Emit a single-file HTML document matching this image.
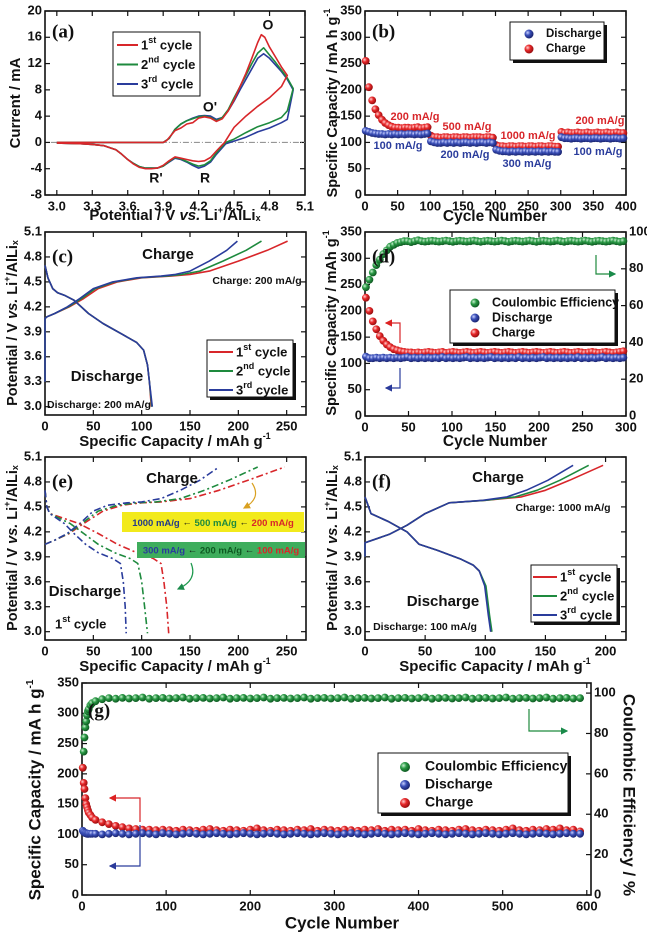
<!DOCTYPE html>
<html><head><meta charset="utf-8">
<style>
html,body{margin:0;padding:0;background:#fff;}
svg{display:block;font-family:"Liberation Sans",Arial,sans-serif;font-weight:bold;}
</style></head>
<body>
<svg id="fig" width="647" height="938" viewBox="0 0 647 938" xmlns="http://www.w3.org/2000/svg">
<defs>
<radialGradient id="gR" cx="35%" cy="35%" r="65%"><stop offset="0" stop-color="#ffd0d0"/><stop offset="0.45" stop-color="#e8292b"/><stop offset="1" stop-color="#9a0e10"/></radialGradient>
<radialGradient id="gB" cx="35%" cy="35%" r="65%"><stop offset="0" stop-color="#c8d0ff"/><stop offset="0.45" stop-color="#3a4fb8"/><stop offset="1" stop-color="#1a2470"/></radialGradient>
<radialGradient id="gG" cx="35%" cy="35%" r="65%"><stop offset="0" stop-color="#c8f0d0"/><stop offset="0.45" stop-color="#2a9a45"/><stop offset="1" stop-color="#0e5a22"/></radialGradient>
<marker id="ahR" markerWidth="6" markerHeight="6" refX="5" refY="3" orient="auto"><path d="M0,0 L6,3 L0,6 Z" fill="#d22"/></marker>
<marker id="ahB" markerWidth="6" markerHeight="6" refX="5" refY="3" orient="auto"><path d="M0,0 L6,3 L0,6 Z" fill="#2a3a9a"/></marker>
<marker id="ahG" markerWidth="6" markerHeight="6" refX="5" refY="3" orient="auto"><path d="M0,0 L6,3 L0,6 Z" fill="#1a8a4a"/></marker>
<marker id="ahO" markerWidth="6" markerHeight="6" refX="5" refY="3" orient="auto"><path d="M0,0 L6,3 L0,6 Z" fill="#d9a020"/></marker>
</defs>
</svg>
<script>
// ---------- Panel (a) CV data ----------
const aV1 = [3.0,3.3,3.6,3.9,3.93,4.0,4.05,4.1,4.15,4.2,4.25,4.3,4.35,4.4,4.45,4.5,4.55,4.6,4.65,4.7,4.73,4.76,4.8,4.85,4.9,4.95,4.9,4.8,4.7,4.6,4.5,4.42,4.35,4.3,4.25,4.2,4.15,4.1,4.05,4.0,3.95,3.9,3.85,3.8,3.75,3.7,3.65,3.6,3.55,3.5,3.4,3.3,3.2,3.0];
const aI1 = [0,0,0,0,0.3,1.8,2.2,2.8,3.0,3.7,3.9,3.7,3.2,3.6,4.8,6.5,8.5,10.5,12.8,15.2,16.4,16.0,14.5,13.0,11.5,10.2,8.5,6.8,5.5,4.0,2.3,0,-1.3,-2.3,-2.8,-2.9,-2.8,-2.6,-2.4,-2.2,-2.8,-3.5,-3.9,-4.0,-4.0,-3.8,-3.3,-2.6,-1.8,-1.1,-0.5,-0.3,-0.2,-0.1];
const aV23 = [3.0,3.3,3.6,3.9,3.95,4.0,4.05,4.1,4.15,4.2,4.25,4.3,4.35,4.4,4.45,4.5,4.55,4.6,4.65,4.7,4.75,4.8,4.85,4.9,4.95,5.0,4.95,4.9,4.8,4.7,4.6,4.5,4.43,4.35,4.3,4.25,4.2,4.15,4.1,4.05,4.0,3.95,3.9,3.85,3.8,3.75,3.7,3.65,3.6,3.55,3.5,3.4,3.3,3.2,3.0];
const aI2 = [0,0,0,0,0.6,2.0,2.8,3.3,3.6,3.9,4.0,3.8,3.3,3.8,5.0,6.8,8.5,10.2,12.0,13.6,14.4,13.3,12.2,11.0,9.8,8.2,4.8,3.8,3.0,2.4,1.5,0.5,0,-1.6,-2.8,-3.4,-3.6,-3.3,-2.9,-2.5,-2.3,-2.9,-3.6,-3.9,-3.9,-3.9,-3.7,-3.2,-2.6,-1.8,-1.1,-0.5,-0.3,-0.2,-0.1];
const aI3 = [0,0,0,0,0.6,2.0,2.8,3.3,3.7,4.0,4.1,4.0,3.5,3.8,4.8,6.3,8.0,9.6,11.2,12.8,13.5,12.8,11.8,10.8,9.6,8.0,3.5,3.0,2.2,1.6,0.8,0.2,-0.2,-1.8,-3.0,-3.6,-3.9,-3.5,-3.0,-2.6,-2.4,-3.0,-3.6,-3.9,-3.9,-3.9,-3.7,-3.2,-2.6,-1.8,-1.1,-0.5,-0.3,-0.2,-0.1];
const aXTicks = [3.0,3.3,3.6,3.9,4.2,4.5,4.8,5.1];
const aYTicks = [-8,-4,0,4,8,12,16,20];

// ---------- Panel (b) rate data (cycles 1,6,11,...) ----------
const bCharge = [255,205,180,163,152,143,137,133,130,128,128,127,128,128,127,128,129,127,128,129,
 113,110,110,109,110,110,109,110,110,109,110,110,109,110,110,110,109,110,110,109,
 95,93,93,92,93,93,92,93,93,92,93,93,92,93,93,92,93,93,92,92,
 120,118,119,118,118,119,118,118,119,118,118,119,118,118,119,118,118,119,118,118];
const bDischarge = [122,120,118,117,116,116,115,116,115,116,115,116,115,116,116,115,116,115,116,117,
 102,100,99,99,100,99,100,99,100,99,100,100,99,100,99,100,100,99,100,99,
 86,84,83,83,82,83,82,83,82,83,82,83,82,83,82,83,82,83,82,82,
 110,108,108,107,108,108,107,108,108,107,108,108,107,108,108,107,108,108,107,108];
const bXTicks = [0,50,100,150,200,250,300,350,400];
const capTicks = [0,50,100,150,200,250,300,350];

// ---------- Panel (c) ----------
const cChgV = [3.3,4.06,4.08,4.12,4.2,4.3,4.42,4.5,4.55,4.57,4.59,4.63,4.75,4.88,4.99];
const cChg1 = [0,0,2,10,25,40,55,75,100,130,150,170,200,230,251];
const cChg2 = [0,0,2,10,24,38,52,72,97,125,142,160,184,208,224];
const cChg3 = [0,0,2,10,23,36,50,70,95,120,135,150,170,188,199];
const cDisV = [4.7,4.55,4.42,4.37,4.34,4.28,4.12,4.0,3.87,3.77,3.68,3.5,3.3,3.0];
const cDis1 = [0,3,8,13,20,30,45,60,80,95,102,106,108,110];
const cDis2 = [0,3,8,13,20,30,45,60,80,95,102,106,108,110.5];
const cDis3 = [0,3,8,13,20,30,45,60,80,95,102,106,108,111];
const vTicks = [3.0,3.3,3.6,3.9,4.2,4.5,4.8,5.1];
const capXTicks = [0,50,100,150,200,250];

// ---------- Panel (d) cycles 1,5,9,... ----------
const dCharge = [225,200,180,165,152,143,136,131,127,125,123,122,121,121,120,121,120,121,122,121,
 120,121,122,120,121,122,121,120,121,122,121,120,121,122,121,120,121,122,121,120,
 121,122,121,120,121,122,121,120,121,122,121,120,121,122,121,120,121,122,121,120,
 121,122,121,120,121,122,121,120,121,122,121,120,121,122,123];
const dDischarge = [113,110,110,111,110,111,110,111,110,111,110,111,112,110,111,110,111,110,111,110,
 111,110,112,110,111,110,111,110,111,112,110,111,110,111,110,111,112,110,111,110,
 111,110,111,110,112,110,111,110,111,110,111,112,110,111,110,111,110,111,110,111,
 110,112,110,111,110,111,110,111,112,110,111,110,111,110,111];
const dCE = [70,74,78,82,85,88,90,92,93,94,94.5,95,95,94.5,95,95.5,95,94.8,95,95.2,
 95,94.8,95,95.3,95,94.7,95,95.2,95,94.8,95,95.3,95,94.7,95,95.2,95,94.8,95,95.3,
 95,94.6,95,95.2,95,94.8,95,95.3,95,94.7,95,95.2,95,94.8,95,95.3,95,94.7,95,95.2,
 95,94.8,95,95.3,95,94.7,95,95.2,95,94.8,95,95.3,95,94.7,95];
const dXTicks = [0,50,100,150,200,250,300];
const ceTicks = [0,20,40,60,80,100];

// ---------- Panel (e) ----------
const eChgV = [4.05,4.1,4.18,4.3,4.45,4.52,4.55,4.56,4.6,4.7,4.82,4.98];
const eChgR = [0,10,25,40,60,80,100,120,150,180,210,248];
const eChgG = [0,10,24,38,55,75,95,115,140,165,190,220];
const eChgB = [0,10,23,36,50,65,85,100,120,140,160,180];
const eDisV = [4.7,4.5,4.42,4.38,4.3,4.18,4.05,3.95,3.88,3.82,3.6,3.3,2.98];
const eDisR = [0,2,5,15,35,55,75,95,112,120,123,126,128];
const eDisG = [0,2,5,12,26,40,55,72,88,96,100,103,106];
const eDisB = [0,2,5,10,20,30,42,55,70,78,81,83,84];

// ---------- Panel (f) ----------
const fChgV = [3.9,4.07,4.17,4.28,4.42,4.55,4.58,4.62,4.7,4.82,5.0];
const fChg1 = [0,0,20,35,50,70,100,130,150,170,198];
const fChg2 = [0,0,20,35,50,70,100,125,143,162,186];
const fChg3 = [0,0,20,35,50,70,98,118,134,152,173];
const fDisV = [4.62,4.42,4.32,4.2,4.05,3.98,3.87,3.8,3.73,3.55,3.2,3.0];
const fDis1 = [0,5,20,35,45,60,80,90,95,100,103,105];
const fDis2 = [0,5,20,35,45,60,80,90,95,100.5,103.5,105.5];
const fDis3 = [0,5,20,35,45,60,80,90,95,99.5,102.5,104.5];
const fXTicks = [0,50,100,150,200];

// ---------- Panel (g) ----------
const gEarlyCycles = [1,2,3,4,5,6,7,8,10,12];
const gCharge = [210,185,175,160,150,145,140,136,132,128,
 124,120,117,114,112,110,109,108,108,107,108,107,106,108,107,106,108,109,107,106,108,107,106,108,110,107,106,108,107,106,108,107,109,106,108,107,106,108,107,106,108,107,109,106,108,107,108,106,109,107,106,108,107,106,108,109,107,106,108,107,106,108,110,107,106,108,107,109,108,110,107,108,105];
const gDischarge = [106,104,103,102,102,101,101,101,101,101,
 101,100,101,102,101,100,101,102,101,100,102,101,100,101,102,101,100,101,102,101,100,101,102,101,100,101,102,101,100,101,102,101,100,101,102,101,100,101,102,101,100,101,102,101,100,101,102,101,100,101,102,101,100,101,102,101,100,101,102,101,100,101,102,101,100,101,102,101,100,101,102,101,101];
const gCE = [63,71,78,83,86,89,91,92,94,95,
 96,97,97.5,97.2,97.6,97.3,97.5,97.8,97.2,97.5,97.6,97.3,97.5,97.8,97.2,97.5,97.6,97.3,97.5,97.8,97.2,97.5,97.6,97.3,97.5,97.8,97.2,97.5,97.6,97.3,97.5,97.8,97.2,97.5,97.6,97.3,97.5,97.8,97.2,97.5,97.6,97.3,97.5,97.8,97.2,97.5,97.6,97.3,97.5,97.8,97.2,97.5,97.6,97.3,97.5,97.8,97.2,97.5,97.6,97.3,97.5,97.8,97.2,97.5,97.6,97.3,97.5,97.8,97.2,97.5,97.6,97.3,97.5];
const gXTicks = [0,100,200,300,400,500,600];

const NS = 'http://www.w3.org/2000/svg';
const svg = document.getElementById('fig');
const RED = '#d8262a', GRN = '#1e8a3e', BLU = '#2a3c9c';

function mk(tag, attrs, name, parent) {
  const e = document.createElementNS(NS, tag);
  for (const k in attrs) e.setAttribute(k, attrs[k]);
  
  
  (parent || svg).appendChild(e);
  return e;
}
function txt(x, y, html, size, name, opts) {
  opts = opts || {};
  const t = mk('text', {x: x, y: y, 'font-size': size, 'text-anchor': opts.anchor || 'start', fill: opts.fill || '#111', 'dominant-baseline': 'middle'}, name, opts.parent);
  if (opts.rot) t.setAttribute('transform', 'rotate(' + opts.rot + ' ' + x + ' ' + y + ')');
  if (opts.family) t.setAttribute('font-family', opts.family);
  t.innerHTML = html;
  return t;
}
function axes(p) {
  const g = mk('g', {}, p.name);
  const sx = v => p.L + (v - p.xmin) / (p.xmax - p.xmin) * (p.R - p.L);
  const sy = v => p.B - (v - p.ymin) / (p.ymax - p.ymin) * (p.B - p.T);
  const fmt = p.fmt || (v => String(v));
  p.xt.forEach(v => {
    const x = sx(v);
    mk('line', {x1: x, x2: x, y1: p.B, y2: p.B - 5, stroke: '#111', 'stroke-width': 1.2}, 'x-tick', g);
    mk('line', {x1: x, x2: x, y1: p.T, y2: p.T + 5, stroke: '#111', 'stroke-width': 1.2}, 'x-tick-top', g);
    txt(x, p.B + 12, p.xfmt ? p.xfmt(v) : String(v), 13, 'x-tick-label', {anchor: 'middle', parent: g});
  });
  p.yt.forEach(v => {
    const y = sy(v);
    mk('line', {x1: p.L, x2: p.L + 5, y1: y, y2: y, stroke: '#111', 'stroke-width': 1.2}, 'y-tick', g);
    if (!p.rt) mk('line', {x1: p.R, x2: p.R - 5, y1: y, y2: y, stroke: '#111', 'stroke-width': 1.2}, 'y-tick-right', g);
    txt(p.L - 3, y, fmt(v), 13, 'y-tick-label', {anchor: 'end', parent: g});
  });
  let sr = null;
  if (p.rt) {
    sr = v => p.B - (v - p.rmin) / (p.rmax - p.rmin) * (p.B - p.T);
    p.rt.forEach(v => {
      const y = sr(v);
      mk('line', {x1: p.R, x2: p.R - 5, y1: y, y2: y, stroke: '#111', 'stroke-width': 1.2}, 'right-tick', g);
      txt(p.R + 3, y, String(v), 13, 'right-tick-label', {parent: g});
    });
  }
  mk('rect', {x: p.L, y: p.T, width: p.R - p.L, height: p.B - p.T, fill: 'none', stroke: '#111', 'stroke-width': 1.6}, 'plot-frame', g);
  return {sx, sy, sr, g};
}
function line(ax, xs, ys, color, name, dash) {
  const pts = xs.map((x, i) => ax.sx(x).toFixed(1) + ',' + ax.sy(ys[i]).toFixed(1)).join(' ');
  const a = {points: pts, fill: 'none', stroke: color, 'stroke-width': 1.6, 'stroke-linejoin': 'round'};
  if (dash) a['stroke-dasharray'] = dash;
  return mk('polyline', a, name, ax.g);
}
function dots(ax, xs, ys, grad, name, useR) {
  const grp = mk('g', {}, name, ax.g);
  xs.forEach((x, i) => {
    const c = mk('circle', {cx: ax.sx(x).toFixed(1), cy: (useR ? ax.sr(ys[i]) : ax.sy(ys[i])).toFixed(1), r: 3.9, fill: 'url(#' + grad + ')'}, 'data-point', grp);
  });
  return grp;
}
function legendBox(x, y, w, h, name) {
  const g = mk('g', {}, name);
  mk('rect', {x: x + 3, y: y + 3, width: w, height: h, fill: '#111'}, 'legend-shadow', g);
  mk('rect', {x: x, y: y, width: w, height: h, fill: '#fff', stroke: '#111', 'stroke-width': 1}, 'legend-frame', g);
  return g;
}
function arrowPath(d, color, mark, name) {
  mk('path', {d: d, fill: 'none', stroke: color, 'stroke-width': 1.2, 'marker-end': 'url(#' + mark + ')'}, name);
}
const VS = 'Potential / V <tspan font-style="italic">vs.</tspan> Li<tspan font-size="9" dy="-5">+</tspan><tspan dy="5">/AlLi</tspan><tspan font-size="9" dy="3">x</tspan>';
const CAPX = 'Specific Capacity / mAh g<tspan font-size="9" dy="-5">-1</tspan>';
const sup = s => '<tspan font-size="9" dy="-5">' + s + '</tspan><tspan dy="5"> </tspan>';
const serif = '"Liberation Serif",serif';

// ===== (a) =====
const A = axes({name: 'panel-a', L: 45, R: 305, T: 11, B: 195, xmin: 2.9, xmax: 5.1, ymin: -8, ymax: 20, xt: aXTicks, yt: aYTicks, xfmt: v => v.toFixed(1)});
mk('line', {x1: A.sx(2.95), x2: A.sx(5.1), y1: A.sy(0), y2: A.sy(0), stroke: '#888', 'stroke-width': 1, 'stroke-dasharray': '6,2,1,2'}, 'zero-line', A.g);
line(A, aV23, aI3, BLU, 'cv-cycle-3');
line(A, aV23, aI2, GRN, 'cv-cycle-2');
line(A, aV1, aI1, RED, 'cv-cycle-1');
txt(52, 33, '(a)', 19, 'panel-label-a', {family: serif});
txt(268, 26, 'O', 14, 'peak-label-o', {anchor: 'middle'});
txt(210, 108, "O'", 14, 'peak-label-o-prime', {anchor: 'middle'});
txt(156, 179, "R'", 14, 'peak-label-r-prime', {anchor: 'middle'});
txt(205, 179, 'R', 14, 'peak-label-r', {anchor: 'middle'});
{
  const g = mk('g', {}, 'legend-a');
  mk('rect', {x: 113, y: 32, width: 87, height: 64, fill: '#fff', stroke: '#111', 'stroke-width': 1}, 'legend-frame', g);
  [[RED, '1' + sup('st') + 'cycle'], [GRN, '2' + sup('nd') + 'cycle'], [BLU, '3' + sup('rd') + 'cycle']].forEach((e, i) => {
    const y = 45 + i * 19.5;
    mk('line', {x1: 117, x2: 138, y1: y, y2: y, stroke: e[0], 'stroke-width': 2}, 'legend-line', g);
    txt(141, y + 1, e[1], 13, 'legend-entry', {parent: g});
  });
}
txt(16, 103, 'Current / mA', 15, 'y-axis-title-a', {anchor: 'middle', rot: -90});
txt(175, 216, VS, 15, 'x-axis-title-a', {anchor: 'middle'});

// ===== (b) =====
const Bx = axes({name: 'panel-b', L: 365, R: 626, T: 11, B: 195, xmin: 0, xmax: 400, ymin: 0, ymax: 350, xt: bXTicks, yt: capTicks});
const bCycles = bCharge.map((_, i) => 1 + 5 * i);
dots(Bx, bCycles, bCharge, 'gR', 'series-b-charge');
dots(Bx, bCycles, bDischarge, 'gB', 'series-b-discharge');
txt(372, 33, '(b)', 19, 'panel-label-b', {family: serif});
{
  const g = legendBox(510, 22, 94, 38, 'legend-b');
  mk('circle', {cx: 529, cy: 34, r: 4.5, fill: 'url(#gB)'}, 'legend-marker', g);
  txt(546, 34, 'Discharge', 11.5, 'legend-entry', {parent: g});
  mk('circle', {cx: 529, cy: 49, r: 4.5, fill: 'url(#gR)'}, 'legend-marker', g);
  txt(546, 49, 'Charge', 11.5, 'legend-entry', {parent: g});
}
[['200 mA/g', 415, 117, RED], ['500 mA/g', 467, 127, RED], ['1000 mA/g', 528, 136, RED], ['200 mA/g', 600, 121, RED],
 ['100 mA/g', 398, 146, BLU], ['200 mA/g', 465, 155, BLU], ['300 mA/g', 527, 164, BLU], ['100 mA/g', 598, 152, BLU]].forEach(r => {
  txt(r[1], r[2], r[0], 11, 'rate-label', {anchor: 'middle', fill: r[3]});
});
txt(333, 103, 'Specific Capacity / mA h g<tspan font-size="9" dy="-5">-1</tspan>', 14.5, 'y-axis-title-b', {anchor: 'middle', rot: -90});
txt(495, 217, 'Cycle Number', 15.5, 'x-axis-title-b', {anchor: 'middle'});

// ===== (c) =====
const C = axes({name: 'panel-c', L: 45, R: 306, T: 232, B: 415, xmin: 0, xmax: 270, ymin: 2.9, ymax: 5.1, xt: capXTicks, yt: vTicks, fmt: v => v.toFixed(1)});
line(C, cChg1, cChgV, RED, 'charge-cycle-1');
line(C, cChg2, cChgV, GRN, 'charge-cycle-2');
line(C, cChg3, cChgV, BLU, 'charge-cycle-3');
line(C, cDis1, cDisV, RED, 'discharge-cycle-1');
line(C, cDis2, cDisV, GRN, 'discharge-cycle-2');
line(C, cDis3, cDisV, BLU, 'discharge-cycle-3');
txt(52, 258, '(c)', 19, 'panel-label-c', {family: serif});
txt(168, 255, 'Charge', 15, 'charge-label-c', {anchor: 'middle'});
txt(257, 281, 'Charge: 200 mA/g', 10.5, 'charge-rate-c', {anchor: 'middle'});
txt(107, 377, 'Discharge', 15, 'discharge-label-c', {anchor: 'middle'});
txt(47, 405, 'Discharge: 200 mA/g', 10.5, 'discharge-rate-c');
function cycLegend(x, y, name) {
  const g = legendBox(x, y, 86, 57, name);
  [[RED, '1' + sup('st') + ' cycle'], [GRN, '2' + sup('nd') + 'cycle'], [BLU, '3' + sup('rd') + ' cycle']].forEach((e, i) => {
    const yy = y + 12 + i * 19;
    mk('line', {x1: x + 2, x2: x + 26, y1: yy, y2: yy, stroke: e[0], 'stroke-width': 2}, 'legend-line', g);
    txt(x + 29, yy + 1, e[1], 13, 'legend-entry', {parent: g});
  });
}
cycLegend(207, 340, 'legend-c');
txt(13, 323, VS, 14.5, 'y-axis-title-c', {anchor: 'middle', rot: -90});
txt(175, 442, CAPX, 15, 'x-axis-title-c', {anchor: 'middle'});

// ===== (d) =====
const D = axes({name: 'panel-d', L: 365, R: 626, T: 232, B: 416, xmin: 0, xmax: 300, ymin: 0, ymax: 350, xt: dXTicks, yt: capTicks, rmin: 0, rmax: 100, rt: ceTicks});
const dCycles = dCharge.map((_, i) => 1 + 4 * i);
dots(D, dCycles, dCE, 'gG', 'series-d-coulombic-efficiency', true);
dots(D, dCycles, dCharge, 'gR', 'series-d-charge');
dots(D, dCycles, dDischarge, 'gB', 'series-d-discharge');
txt(372, 258, '(d)', 19, 'panel-label-d', {family: serif});
{
  const g = legendBox(450, 290, 165, 53, 'legend-d');
  [['gG', 'Coulombic Efficiency'], ['gB', 'Discharge'], ['gR', 'Charge']].forEach((e, i) => {
    const y = 303 + i * 15;
    mk('circle', {cx: 475, cy: y, r: 4.5, fill: 'url(#' + e[0] + ')'}, 'legend-marker', g);
    txt(492, y, e[1], 12.5, 'legend-entry', {parent: g});
  });
}
arrowPath('M400,343 L400,323 L386,323', RED, 'ahR', 'arrow-charge-d');
arrowPath('M400,368 L400,388 L386,388', BLU, 'ahB', 'arrow-discharge-d');
arrowPath('M596,255 L596,274 L615,274', GRN, 'ahG', 'arrow-ce-d');
txt(332, 323, 'Specific Capacity / mAh g<tspan font-size="9" dy="-5">-1</tspan>', 14.5, 'y-axis-title-d', {anchor: 'middle', rot: -90});
txt(495, 442, 'Cycle Number', 15.5, 'x-axis-title-d', {anchor: 'middle'});

// ===== (e) =====
const E = axes({name: 'panel-e', L: 45, R: 306, T: 457, B: 640, xmin: 0, xmax: 270, ymin: 2.9, ymax: 5.1, xt: capXTicks, yt: vTicks, fmt: v => v.toFixed(1)});
const DD = '7,3,2,3';
line(E, eChgR, eChgV, RED, 'charge-200', DD);
line(E, eChgG, eChgV, GRN, 'charge-500', DD);
line(E, eChgB, eChgV, BLU, 'charge-1000', DD);
line(E, eDisR, eDisV, RED, 'discharge-100', DD);
line(E, eDisG, eDisV, GRN, 'discharge-200', DD);
line(E, eDisB, eDisV, BLU, 'discharge-300', DD);
txt(52, 483, '(e)', 19, 'panel-label-e', {family: serif});
txt(172, 479, 'Charge', 15, 'charge-label-e', {anchor: 'middle'});
txt(85, 592, 'Discharge', 15, 'discharge-label-e', {anchor: 'middle'});
txt(55, 625, '1' + sup('st') + 'cycle', 13, 'cycle-note-e');
mk('rect', {x: 122, y: 512, width: 182, height: 20, fill: '#f2ea1c'}, 'charge-rate-box');
txt(213, 523, '<tspan fill="#223a8a">1000 mA/g</tspan> ← <tspan fill="#1e8a3e">500 mA/g</tspan> ← <tspan fill="#d8262a">200 mA/g</tspan>', 9.5, 'charge-rate-sequence', {anchor: 'middle'});
mk('rect', {x: 137, y: 542, width: 168, height: 16, fill: '#3ead5c'}, 'discharge-rate-box');
txt(221, 550.5, '<tspan fill="#2a3c9c">300 mA/g</tspan> ← <tspan fill="#0e5a22">200 mA/g</tspan> ← <tspan fill="#d8262a">100 mA/g</tspan>', 9.5, 'discharge-rate-sequence', {anchor: 'middle'});
arrowPath('M252,483 Q262,498 244,508', '#d9a020', 'ahO', 'curved-arrow-charge');
arrowPath('M191,563 Q198,580 178,589', '#1e9a4e', 'ahG', 'curved-arrow-discharge');
txt(13, 548, VS, 14.5, 'y-axis-title-e', {anchor: 'middle', rot: -90});
txt(175, 667, CAPX, 15, 'x-axis-title-e', {anchor: 'middle'});

// ===== (f) =====
const F = axes({name: 'panel-f', L: 365, R: 626, T: 457, B: 640, xmin: 0, xmax: 217, ymin: 2.9, ymax: 5.1, xt: fXTicks, yt: vTicks, fmt: v => v.toFixed(1)});
line(F, fChg1, fChgV, RED, 'charge-cycle-1');
line(F, fChg2, fChgV, GRN, 'charge-cycle-2');
line(F, fChg3, fChgV, BLU, 'charge-cycle-3');
line(F, fDis1, fDisV, RED, 'discharge-cycle-1');
line(F, fDis2, fDisV, GRN, 'discharge-cycle-2');
line(F, fDis3, fDisV, BLU, 'discharge-cycle-3');
txt(372, 483, '(f)', 19, 'panel-label-f', {family: serif});
txt(498, 478, 'Charge', 15, 'charge-label-f', {anchor: 'middle'});
txt(563, 508, 'Charge: 1000 mA/g', 10.5, 'charge-rate-f', {anchor: 'middle'});
txt(443, 602, 'Discharge', 15, 'discharge-label-f', {anchor: 'middle'});
txt(425, 627, 'Discharge: 100 mA/g', 10.5, 'discharge-rate-f', {anchor: 'middle'});
cycLegend(531, 565, 'legend-f');
txt(333, 548, VS, 14.5, 'y-axis-title-f', {anchor: 'middle', rot: -90});
txt(495, 667, CAPX, 15, 'x-axis-title-f', {anchor: 'middle'});

// ===== (g) =====
const G = axes({name: 'panel-g', L: 82, R: 591, T: 683, B: 895, xmin: 0, xmax: 605, ymin: 0, ymax: 350, xt: gXTicks, yt: capTicks, rmin: 0, rmax: 105, rt: ceTicks});
const gCycles = gCharge.map((_, i) => i < gEarlyCycles.length ? gEarlyCycles[i] : 16 + 8 * (i - gEarlyCycles.length));
dots(G, gCycles, gCE, 'gG', 'series-g-coulombic-efficiency', true);
dots(G, gCycles, gCharge, 'gR', 'series-g-charge');
dots(G, gCycles, gDischarge, 'gB', 'series-g-discharge');
txt(88, 712, '(g)', 19, 'panel-label-g', {family: serif});
{
  const g = legendBox(378, 753, 190, 60, 'legend-g');
  [['gG', 'Coulombic Efficiency'], ['gB', 'Discharge'], ['gR', 'Charge']].forEach((e, i) => {
    const y = 767 + i * 18;
    mk('circle', {cx: 405, cy: y, r: 5, fill: 'url(#' + e[0] + ')'}, 'legend-marker', g);
    txt(425, y, e[1], 14, 'legend-entry', {parent: g});
  });
}
arrowPath('M140,822 L140,798 L110,798', RED, 'ahR', 'arrow-charge-g');
arrowPath('M140,825 L140,866 L110,866', BLU, 'ahB', 'arrow-discharge-g');
arrowPath('M529,709 L529,731 L567,731', GRN, 'ahG', 'arrow-ce-g');
txt(36, 790, 'Specific Capacity / mA h g<tspan font-size="10" dy="-6">-1</tspan>', 17, 'y-axis-title-g', {anchor: 'middle', rot: -90});
txt(628, 795, 'Coulombic Efficiency / %', 17, 'right-axis-title-g', {anchor: 'middle', rot: 90});
txt(342, 924, 'Cycle Number', 17, 'x-axis-title-g', {anchor: 'middle'});
</script>
</body></html>
